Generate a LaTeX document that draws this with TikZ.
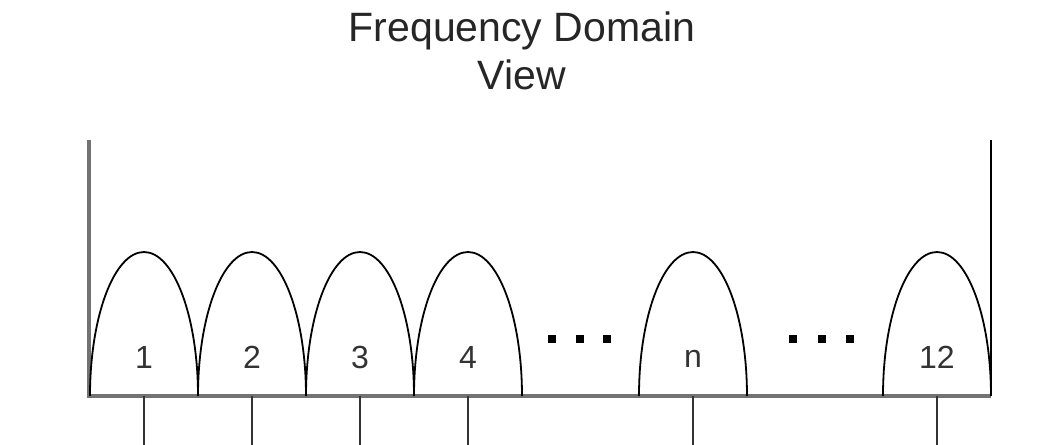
\documentclass[tikz,border=0pt]{standalone}
\usepackage{fontspec}
\setmainfont{Liberation Sans}
\usepackage{tikz}
\usetikzlibrary{positioning}

\begin{document}
\begin{tikzpicture}[
    x=0.5pt, y=0.5pt,
    arch/.style={draw, line width=0.9pt},
    axisline/.style={draw=black!55, line width=1.6pt},
    tickline/.style={draw=black!80, line width=1.1pt},
    numlabel/.style={font=\fontsize{16}{19}\selectfont, text=black!80},
    dotbox/.style={fill=black, minimum size=3.6pt, inner sep=0pt}
]
    \useasboundingbox (0,0) rectangle (1041,445);

    % Title
    \node[font=\fontsize{20.5}{24}\selectfont, align=center, text=black!85] (title) at (522,394) {Frequency Domain\\View};

    % Frame
    \coordinate (tl) at (89,305);
    \coordinate (bl) at (89,49);
    \coordinate (br) at (991,49);
    \coordinate (tr) at (991,305);
    \draw[axisline] (tl) -- (bl) -- (br);
    \draw[line width=1.1pt] (tr) -- (br);

    % Sub-carriers
    \draw[arch] (90,49) arc[start angle=180, end angle=0, x radius=54, y radius=144];
    \draw[arch] (198,49) arc[start angle=180, end angle=0, x radius=54, y radius=144];
    \draw[arch] (306,49) arc[start angle=180, end angle=0, x radius=54, y radius=144];
    \draw[arch] (414,49) arc[start angle=180, end angle=0, x radius=54, y radius=144];
    \draw[arch] (639,49) arc[start angle=180, end angle=0, x radius=54, y radius=144];
    \draw[arch] (883,49) arc[start angle=180, end angle=0, x radius=54, y radius=144];

    % Labels
    \node[numlabel] (c1) at (144,88) {1};
    \node[numlabel] (c2) at (252,88) {2};
    \node[numlabel] (c3) at (360,88) {3};
    \node[numlabel] (c4) at (468,88) {4};
    \node[numlabel] (cn) at (693,86) {n};
    \node[numlabel] (c12) at (937,88) {12};

    % Dots
    \node[dotbox] (d1) at (552,106) {};
    \node[dotbox] (d2) at (580,106) {};
    \node[dotbox] (d3) at (607,106) {};
    \node[dotbox] (d4) at (793,106) {};
    \node[dotbox] (d5) at (822,106) {};
    \node[dotbox] (d6) at (850,106) {};

    % Ticks
    \coordinate (t1) at (144,0);
    \coordinate (t2) at (252,0);
    \coordinate (t3) at (360,0);
    \coordinate (t4) at (468,0);
    \coordinate (tn) at (693,0);
    \coordinate (t12) at (937,0);
    \draw[tickline] (c1 |- bl) -- (t1);
    \draw[tickline] (c2 |- bl) -- (t2);
    \draw[tickline] (c3 |- bl) -- (t3);
    \draw[tickline] (c4 |- bl) -- (t4);
    \draw[tickline] (cn |- bl) -- (tn);
    \draw[tickline] (c12 |- bl) -- (t12);
\end{tikzpicture}
\end{document}
